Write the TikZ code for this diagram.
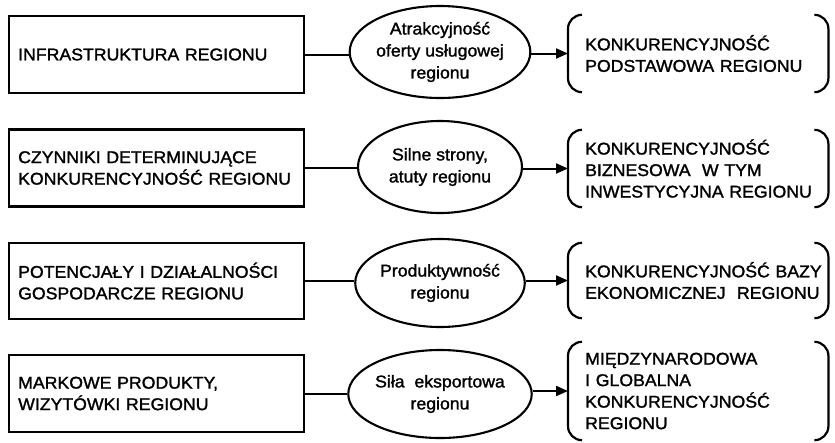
\documentclass[tikz,border=0pt]{standalone}
\usepackage{fontspec}
\setmainfont{Liberation Sans}[FakeStretch=1.04,FakeBold=1.5]
\usetikzlibrary{shapes.geometric,arrows.meta}
\hyphenpenalty=10000
\exhyphenpenalty=10000
\begin{document}
\begin{tikzpicture}[x=1pt,y=-1pt,
  every node/.style={font=\fontsize{17}{21.5}\selectfont},
  srcbox/.style={draw,line width=2.4pt,minimum height=77pt,text width=277pt,
    inner xsep=9pt,inner ysep=0pt,align=left,anchor=west},
  ell/.style={draw,ellipse,line width=2.1pt,minimum width=164pt,minimum height=92pt,
    inner sep=0pt,align=center,font=\fontsize{17}{22}\selectfont},
  tgt/.style={text width=226pt,inner xsep=17pt,inner ysep=0pt,align=left,anchor=west},
  brk/.style={line width=2.2pt,rounded corners=14pt},
  conn/.style={line width=2pt},
  arr/.style={conn,-{Triangle[length=12pt,width=10pt]}}
]
\useasboundingbox (0,0) rectangle (835,442);

% row 1
\node[srcbox] (s1) at (8,54.5) {INFRASTRUKTURA~REGIONU};
\node[ell] (e1) at (440,52) {Atrakcyjność\\oferty~usługowej\\regionu};
\node[tgt,minimum height=77pt] (t1) at (568,53.5) {KONKURENCYJNOŚĆ\\PODSTAWOWA~REGIONU};

% row 2
\node[srcbox] (s2) at (8,168) {CZYNNIKI~DETERMINUJĄCE\\KONKURENCYJNOŚĆ~REGIONU};
\node[ell] (e2) at (440,167) {Silne~strony,\\atuty~regionu};
\node[tgt,minimum height=77pt] (t2) at (568,168.5) {\mbox{KONKURENCYJNOŚĆ}\\\mbox{BIZNESOWA\ \ W TYM}\\\mbox{INWESTYCYJNA REGIONU}};

% row 3
\node[srcbox,minimum height=76pt] (s3) at (8,281) {POTENCJAŁY~I~DZIAŁALNOŚCI\\GOSPODARCZE~REGIONU};
\node[ell,minimum height=88pt] (e3) at (440,283) {Produktywność\\regionu};
\node[tgt,minimum height=75pt] (t3) at (568,280.5) {\mbox{KONKURENCYJNOŚĆ BAZY}\\\mbox{EKONOMICZNEJ\ \ REGIONU}};

% row 4
\node[srcbox] (s4) at (8,393.5) {MARKOWE~PRODUKTY,\\WIZYTÓWKI~REGIONU};
\node[ell,minimum height=88pt] (e4) at (440,394) {Siła~\ eksportowa\\regionu};
\node[tgt,minimum height=98pt] (t4) at (568,391) {MIĘDZYNARODOWA\\I~GLOBALNA\\KONKURENCYJNOŚĆ\\REGIONU};

\foreach \i in {1,2,3,4}{
  \draw[conn] (s\i.east) -- (e\i.west |- s\i.east);
  \draw[arr] (e\i.east |- t\i.west) -- (t\i.west);
  \draw[brk] ([xshift=14pt]t\i.north west) -- (t\i.north west) -- (t\i.south west) -- ([xshift=14pt]t\i.south west);
  \draw[brk] ([xshift=-14pt]t\i.north east) -- (t\i.north east) -- (t\i.south east) -- ([xshift=-14pt]t\i.south east);
}
\end{tikzpicture}
\end{document}
